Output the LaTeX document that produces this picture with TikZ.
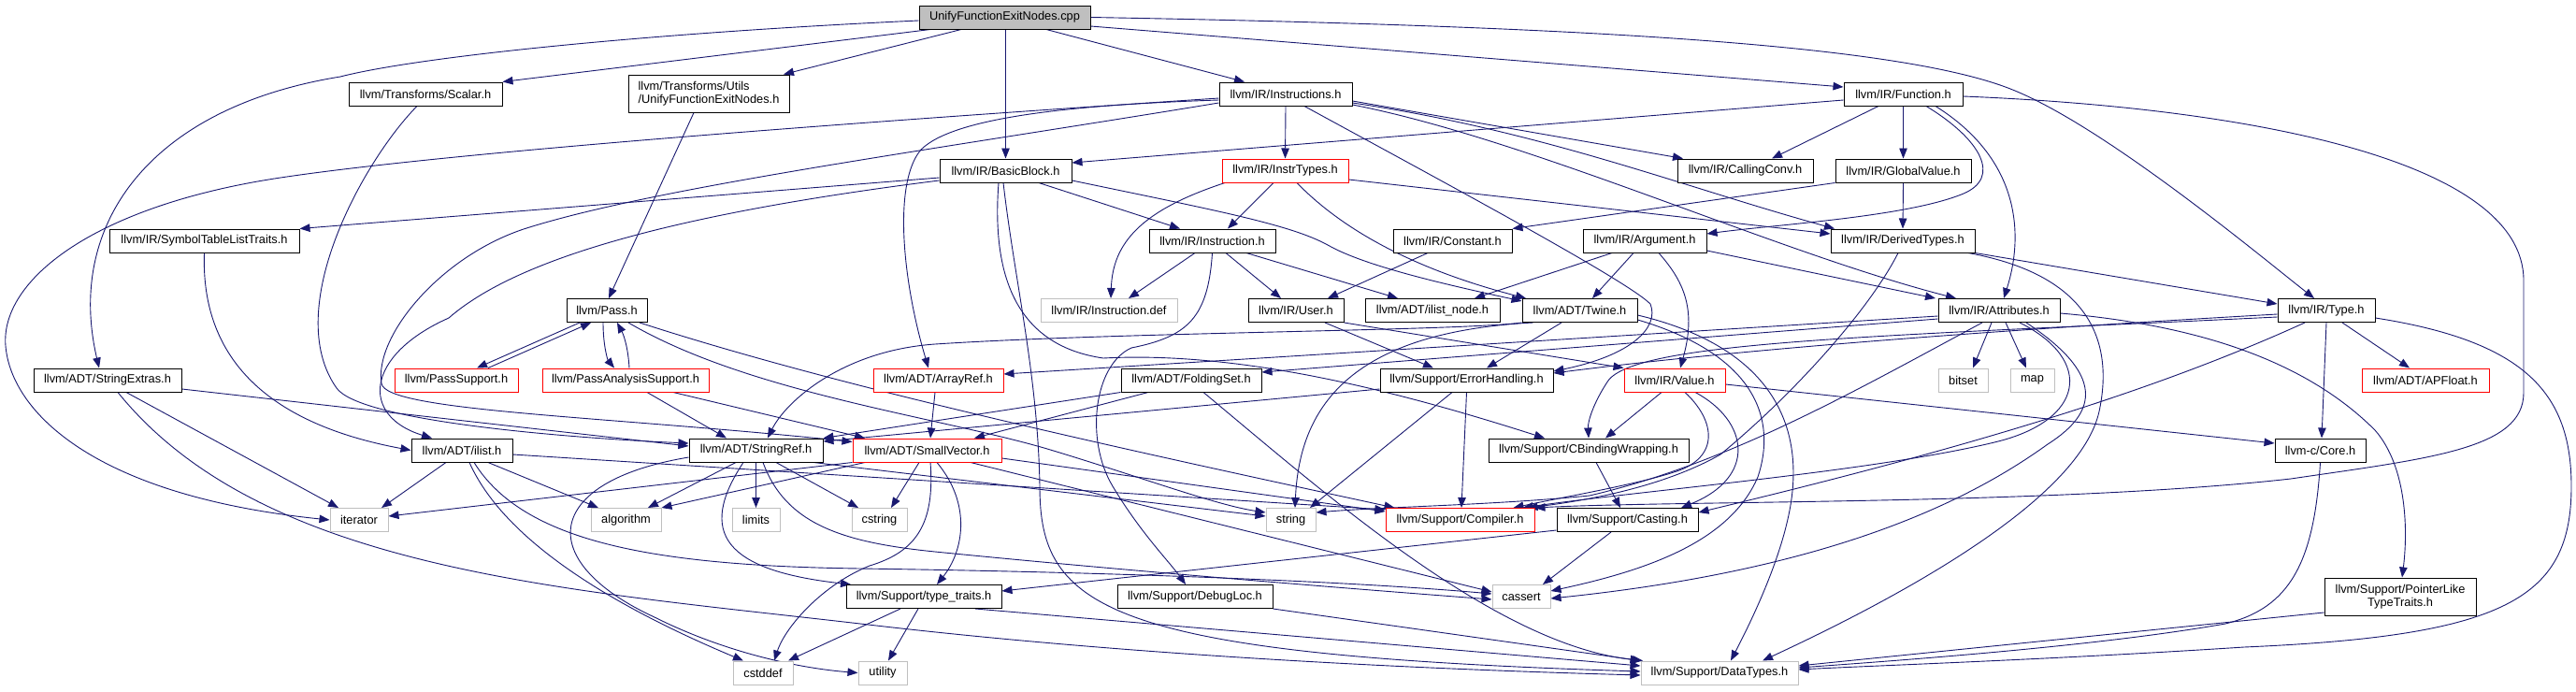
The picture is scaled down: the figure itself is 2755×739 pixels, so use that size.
\documentclass[tikz,border=0pt]{standalone}
\usepackage{fontspec}
\setmainfont{Liberation Sans}
\usetikzlibrary{arrows.meta}
\definecolor{dxgray}{HTML}{BFBFBF}
\definecolor{dxblue}{HTML}{191970}
\newcommand\dxfont{\fontsize{12.8pt}{14pt}\selectfont}
\pgfdeclarelayer{bglayer}
\pgfdeclarelayer{edgelayer}
\pgfsetlayers{bglayer,edgelayer,main}
\begin{document}
\begin{tikzpicture}[x=1pt,y=-1pt,
  dxbox/.style={draw=black, line width=1pt, fill=white, rectangle, minimum height=25pt, inner sep=0pt, font=\dxfont, text=black},
  dxgraybox/.style={dxbox, draw=dxgray},
  dxredbox/.style={dxbox, draw=red},
  dxedge/.style={draw=dxblue, line width=0.9pt, -{Triangle[length=11pt,width=8.5pt]}}]
\useasboundingbox (0,0) rectangle (2755,739);
\begin{pgfonlayer}{bglayer}\fill[white] (0,0) rectangle (2755,739);\end{pgfonlayer}

% row 0
\node[dxbox, fill=dxgray, minimum width=183pt] (cpp) at (1074.5,18.5) {UnifyFunctionExitNodes.cpp};
% row 1
\node[dxbox, minimum width=164pt] (scalar) at (455,100.5) {llvm/Transforms/Scalar.h};
\node[dxbox, minimum width=172pt, minimum height=40pt, align=left] (ufenh) at (758,100) {llvm/Transforms/Utils\\/UnifyFunctionExitNodes.h};
\node[dxbox, minimum width=142pt] (instructions) at (1375,100.5) {llvm/IR/Instructions.h};
\node[dxbox, minimum width=127pt] (function) at (2035.5,100.5) {llvm/IR/Function.h};
% row 2
\node[dxbox, minimum width=141pt] (basicblock) at (1075.5,182.5) {llvm/IR/BasicBlock.h};
\node[dxredbox, minimum width=135pt] (instrtypes) at (1374.5,182.5) {llvm/IR/InstrTypes.h};
\node[dxbox, minimum width=145pt] (callingconv) at (1866.5,182.5) {llvm/IR/CallingConv.h};
\node[dxbox, minimum width=145pt] (globalvalue) at (2035.5,182.5) {llvm/IR/GlobalValue.h};
% row 3
\node[dxbox, minimum width=203pt] (symtab) at (218.5,257.5) {llvm/IR/SymbolTableListTraits.h};
\node[dxbox, minimum width=135pt] (instruction) at (1296.5,257.5) {llvm/IR/Instruction.h};
\node[dxbox, minimum width=127pt] (constant) at (1553.5,257.5) {llvm/IR/Constant.h};
\node[dxbox, minimum width=132pt] (argument) at (1759,257.5) {llvm/IR/Argument.h};
\node[dxbox, minimum width=154pt] (derivedtypes) at (2035,257.5) {llvm/IR/DerivedTypes.h};
% row 4
\node[dxbox, minimum width=86pt] (pass) at (649,332) {llvm/Pass.h};
\node[dxgraybox, minimum width=146pt] (instrdef) at (1186,332) {llvm/IR/Instruction.def};
\node[dxbox, minimum width=102pt] (user) at (1386,332) {llvm/IR/User.h};
\node[dxbox, minimum width=144pt] (ilistnode) at (1532,332) {llvm/ADT/ilist\_node.h};
\node[dxbox, minimum width=123pt] (twine) at (1689.5,332) {llvm/ADT/Twine.h};
\node[dxbox, minimum width=130pt] (attributes) at (2138,332) {llvm/IR/Attributes.h};
\node[dxbox, minimum width=104pt] (type) at (2488,332) {llvm/IR/Type.h};
% row 5
\node[dxbox, minimum width=158pt] (stringextras) at (115,406.5) {llvm/ADT/StringExtras.h};
\node[dxredbox, minimum width=132pt] (passsupport) at (488,406.5) {llvm/PassSupport.h};
\node[dxredbox, minimum width=178pt] (passanalysis) at (669,406.5) {llvm/PassAnalysisSupport.h};
\node[dxredbox, minimum width=139pt] (arrayref) at (1003.5,406.5) {llvm/ADT/ArrayRef.h};
\node[dxbox, minimum width=150pt] (foldingset) at (1274,406.5) {llvm/ADT/FoldingSet.h};
\node[dxbox, minimum width=185pt] (errorhandling) at (1568.5,406.5) {llvm/Support/ErrorHandling.h};
\node[dxredbox, minimum width=108pt] (value) at (1791,406.5) {llvm/IR/Value.h};
\node[dxgraybox, minimum width=53pt] (bitset) at (2099.5,406.5) {bitset};
\node[dxgraybox, minimum width=47pt] (map) at (2173.5,406.5) {map};
\node[dxredbox, minimum width=136pt] (apfloat) at (2594,406.5) {llvm/ADT/APFloat.h};
% row 6
\node[dxbox, minimum width=108pt] (ilist) at (494,481.5) {llvm/ADT/ilist.h};
\node[dxbox, minimum width=143pt] (stringref) at (808.5,481.5) {llvm/ADT/StringRef.h};
\node[dxredbox, minimum width=159pt] (smallvector) at (991.5,481.5) {llvm/ADT/SmallVector.h};
\node[dxbox, minimum width=214pt] (cbinding) at (1699,481.5) {llvm/Support/CBindingWrapping.h};
\node[dxbox, minimum width=97pt] (core) at (2481.5,481.5) {llvm-c/Core.h};
% row 7
\node[dxgraybox, minimum width=62pt] (iterator) at (384,556) {iterator};
\node[dxgraybox, minimum width=75pt] (algorithm) at (669.5,556) {algorithm};
\node[dxgraybox, minimum width=51pt] (limits) at (808.5,556) {limits};
\node[dxgraybox, minimum width=59pt] (cstring) at (940.5,556) {cstring};
\node[dxgraybox, minimum width=53pt] (string) at (1380.5,556) {string};
\node[dxredbox, minimum width=159pt] (compiler) at (1561.5,556) {llvm/Support/Compiler.h};
\node[dxbox, minimum width=151pt] (casting) at (1740.5,556) {llvm/Support/Casting.h};
% row 8
\node[dxbox, minimum width=166pt] (typetraits) at (988,638) {llvm/Support/type\_traits.h};
\node[dxbox, minimum width=166pt] (debugloc) at (1278,638) {llvm/Support/DebugLoc.h};
\node[dxgraybox, minimum width=62pt] (cassert) at (1627,638) {cassert};
\node[dxbox, minimum width=162pt, minimum height=40pt, align=center] (pointerlike) at (2567,638) {llvm/Support/PointerLike\\TypeTraits.h};
% row 9
\node[dxgraybox, minimum width=64pt] (cstddef) at (816,719.5) {cstddef};
\node[dxgraybox, minimum width=52pt] (utility) at (944,719.5) {utility};
\node[dxgraybox, minimum width=168pt] (datatypes) at (1839,719.5) {llvm/Support/DataTypes.h};

\begin{pgfonlayer}{edgelayer}
% cpp
\draw[dxedge] ([yshift=-3.5pt]cpp.west) .. controls (700,35) and (450,60) .. (364,82) .. controls (160,115) and (70,240) .. ([xshift=-9pt]stringextras.north);
\draw[dxedge] ([xshift=-79.5pt]cpp.south) -- (scalar.north east);
\draw[dxedge] ([xshift=-46.5pt]cpp.south) -- ([xshift=80pt]ufenh.north);
\draw[dxedge] (cpp.south -| basicblock.north) -- (basicblock.north);
\draw[dxedge] ([xshift=44.5pt]cpp.south) -- ([xshift=-44pt]instructions.north);
\draw[dxedge] ([yshift=-9.5pt]cpp.east) -- ([yshift=7.5pt]function.west);
\draw[dxedge] (cpp.east) .. controls (1700,28) and (2030,48) .. (2150,95) .. controls (2250,134) and (2420,276) .. ([xshift=-13pt]type.north);
% scalar, ufenh
\draw[dxedge] ([xshift=-9pt]scalar.south) .. controls (390,170) and (300,330) .. (360,415) .. controls (385,450) and (600,468) .. ([yshift=7.5pt]stringref.west);
\draw[dxedge] ([xshift=-16pt]ufenh.south) -- ([xshift=2pt]pass.north);
% instructions
\draw[dxedge] (instructions.south) -- (instrtypes.north);
\draw[dxedge] ([yshift=-4.5pt]instructions.west) .. controls (1000,125) and (500,160) .. (300,190) .. controls (100,220) and (0,300) .. (6,370) .. controls (12,440) and (100,530) .. (iterator.west);
\draw[dxedge] ([yshift=-6.5pt]instructions.west) .. controls (1150,112) and (1020,125) .. (985,160) .. controls (955,195) and (965,300) .. ([xshift=-10.5pt]arrayref.north);
\draw[dxedge] ([yshift=-9.5pt]instructions.west) .. controls (1000,160) and (700,200) .. (560,245) .. controls (470,275) and (400,360) .. (408,410) .. controls (412,440) and (650,445) .. ([yshift=9pt]smallvector.west);
\draw[dxedge] ([yshift=-7.5pt]instructions.east) -- ([xshift=-66.5pt]callingconv.north);
\draw[dxedge] ([yshift=-9.5pt]instructions.east) .. controls (1650,140) and (1800,200) .. ([xshift=-73pt]derivedtypes.north);
\draw[dxedge] ([yshift=-11.5pt]instructions.east) .. controls (1640,150) and (1900,270) .. ([xshift=-46pt]attributes.north);
\draw[dxedge] ([xshift=20pt]instructions.south) .. controls (1550,198) and (1740,300) .. (1765,325) .. controls (1775,350) and (1745,380) .. ([yshift=9.5pt]errorhandling.east);
% function
\draw[dxedge] ([yshift=-6.5pt]function.west) -- ([yshift=8.5pt]basicblock.east);
\draw[dxedge] ([xshift=-26.5pt]function.south) -- ([xshift=28.5pt]callingconv.north);
\draw[dxedge] (function.south) -- (globalvalue.north);
\draw[dxedge] ([xshift=24.5pt]function.south) .. controls (2120,150) and (2140,190) .. (2100,207) .. controls (2040,232) and (1900,240) .. ([yshift=7.5pt]argument.east);
\draw[dxedge] ([xshift=34.5pt]function.south) .. controls (2160,170) and (2165,250) .. ([xshift=5pt]attributes.north);
\draw[dxedge] ([yshift=-2.5pt]function.east) .. controls (2400,115) and (2699,170) .. (2699,300) -- (2699,420) .. controls (2699,480) and (2600,490) .. (2450,512) .. controls (2200,540) and (1800,535) .. (compiler.north east);
% basicblock
\draw[dxedge] ([yshift=-7.5pt]basicblock.west) -- (symtab.north east);
\draw[dxedge] ([yshift=-10.5pt]basicblock.west) .. controls (750,225) and (560,270) .. (480,340) .. controls (390,380) and (385,445) .. ([xshift=-32pt]ilist.north);
\draw[dxedge] ([xshift=35.5pt]basicblock.south) -- ([xshift=-34.5pt]instruction.north);
\draw[dxedge] ([yshift=-10.5pt]basicblock.east) .. controls (1300,225) and (1380,240) .. (1420,262) .. controls (1460,285) and (1550,305) .. ([yshift=10pt]twine.west);
\draw[dxedge] ([xshift=-2.5pt]basicblock.south) .. controls (1085,300) and (1110,400) .. (1112,520) .. controls (1112,650) and (1180,700) .. ([yshift=1.5pt]datatypes.west);
\draw[dxedge] ([xshift=-7.5pt]basicblock.south) .. controls (1060,300) and (1090,370) .. (1180,383) .. controls (1330,375) and (1500,420) .. ([xshift=-47pt]cbinding.north);
% instrtypes
\draw[dxedge] ([xshift=-12.5pt]instrtypes.south) -- ([xshift=16.5pt]instruction.north);
\draw[dxedge] ([xshift=-64.5pt]instrtypes.south) .. controls (1220,225) and (1190,260) .. ([xshift=2pt]instrdef.north);
\draw[dxedge] ([xshift=12.5pt]instrtypes.south) .. controls (1440,250) and (1520,290) .. ([xshift=-57.5pt]twine.north);
\draw[dxedge] ([yshift=-9.5pt]instrtypes.east) -- ([yshift=7.5pt]derivedtypes.west);
% globalvalue
\draw[dxedge] (globalvalue.south west) -- (constant.north east);
\draw[dxedge] (globalvalue.south) -- (derivedtypes.north);
% symtab
\draw[dxedge] (symtab.south) .. controls (215,370) and (270,450) .. (ilist.west);
% instruction
\draw[dxedge] ([xshift=-18.5pt]instruction.south) -- ([xshift=21pt]instrdef.north);
\draw[dxedge] ([xshift=14.5pt]instruction.south) -- ([xshift=-16pt]user.north);
\draw[dxedge] ([xshift=36.5pt]instruction.south) -- ([xshift=-37pt]ilistnode.north);
\draw[dxedge] (instruction.south) .. controls (1292,340) and (1270,360) .. (1210,372) .. controls (1170,390) and (1160,470) .. (1190,520) .. controls (1220,570) and (1250,600) .. ([xshift=-10pt]debugloc.north);
% constant
\draw[dxedge] ([xshift=-26.5pt]constant.south) -- ([xshift=34pt]user.north);
% argument
\draw[dxedge] ([xshift=-35pt]argument.south) -- ([xshift=45pt]ilistnode.north);
\draw[dxedge] ([xshift=-12pt]argument.south) -- ([xshift=13.5pt]twine.north);
\draw[dxedge] ([xshift=15pt]argument.south) .. controls (1800,300) and (1815,330) .. ([xshift=6pt]value.north);
\draw[dxedge] ([yshift=-10.5pt]argument.east) -- ([xshift=-68pt]attributes.north);
% derivedtypes
\draw[dxedge] (derivedtypes.south east) -- ([yshift=7pt]type.west);
\draw[dxedge] ([xshift=-5pt]derivedtypes.south) .. controls (2000,330) and (1920,420) .. (1840,486) .. controls (1780,520) and (1700,535) .. ([xshift=72pt]compiler.north);
\draw[dxedge] ([xshift=70pt]derivedtypes.south) .. controls (2240,295) and (2260,370) .. (2245,440) .. controls (2225,530) and (2050,630) .. ([xshift=46pt]datatypes.north);
% pass
\draw[dxedge] ([xshift=-29pt]pass.south) -- ([xshift=22pt]passsupport.north);
\draw[dxedge] ([xshift=34pt]passsupport.north) -- ([xshift=-17pt]pass.south);
\draw[dxedge] ([xshift=-4pt]pass.south) .. controls (645,370) and (650,385) .. ([xshift=-12pt]passanalysis.north);
\draw[dxedge] ([xshift=4pt]passanalysis.north) .. controls (672,375) and (668,360) .. ([xshift=11pt]pass.south);
\draw[dxedge] ([xshift=23pt]pass.south) .. controls (800,420) and (1000,445) .. (1120,480) .. controls (1220,510) and (1300,540) .. ([yshift=8pt]string.west);
\draw[dxedge] ([xshift=35pt]pass.south) .. controls (900,415) and (1200,480) .. ([xshift=10pt]compiler.north west);
% passanalysis
\draw[dxedge] ([xshift=23pt]passanalysis.south) -- ([xshift=-31.5pt]stringref.north);
\draw[dxedge] ([xshift=51pt]passanalysis.south) -- ([xshift=-66.5pt]smallvector.north);
% stringextras
\draw[dxedge] ([yshift=-9.5pt]stringextras.east) -- ([yshift=4.5pt]stringref.west);
\draw[dxedge] ([xshift=20pt]stringextras.south) -- ([xshift=-22pt]iterator.north);
\draw[dxedge] ([xshift=11pt]stringextras.south) .. controls (280,610) and (600,630) .. (920,667) .. controls (1200,700) and (1500,715) .. ([yshift=-2.5pt]datatypes.west);
% arrayref, foldingset
\draw[dxedge] ([xshift=-3.5pt]arrayref.south) -- ([xshift=3.5pt]smallvector.north);
\draw[dxedge] (foldingset.south west) -- (stringref.north east);
\draw[dxedge] ([xshift=-46pt]foldingset.south) -- ([xshift=50.5pt]smallvector.north);
\draw[dxedge] ([xshift=13pt]foldingset.south) .. controls (1420,530) and (1600,690) .. ([xshift=-82pt]datatypes.north);
% errorhandling
\draw[dxedge] ([yshift=-9.5pt]errorhandling.west) -- ([yshift=9.5pt]stringref.east);
\draw[dxedge] ([xshift=-15.5pt]errorhandling.south) -- ([xshift=20.5pt]string.north);
\draw[dxedge] (errorhandling.south) -- ([xshift=1.5pt]compiler.north);
% value
\draw[dxedge] ([xshift=-14pt]value.south) -- ([xshift=18pt]cbinding.north);
\draw[dxedge] ([xshift=11pt]value.south) .. controls (1835,450) and (1840,490) .. (1790,505) .. controls (1750,518) and (1680,530) .. ([xshift=57pt]compiler.north);
\draw[dxedge] ([xshift=22pt]value.south) .. controls (1870,450) and (1880,510) .. ([xshift=57.5pt]casting.north);
\draw[dxedge] ([yshift=-4.5pt]value.east) -- ([yshift=7.5pt]core.west);
% twine
\draw[dxedge] ([xshift=-19.5pt]twine.south) -- ([xshift=21.5pt]errorhandling.north);
\draw[dxedge] (twine.south west) .. controls (1560,354) and (1200,355) .. (1000,368) .. controls (900,375) and (840,430) .. ([xshift=12.5pt]stringref.north);
\draw[dxedge] ([xshift=-50pt]twine.south) .. controls (1450,355) and (1390,430) .. ([xshift=4.5pt]string.north);
\draw[dxedge] ([yshift=-5pt]twine.east) .. controls (1890,370) and (1930,450) .. (1915,540) .. controls (1905,600) and (1870,670) .. ([xshift=12pt]datatypes.north);
\draw[dxedge] ([yshift=-10pt]twine.east) .. controls (1880,380) and (1900,450) .. (1880,510) .. controls (1850,580) and (1760,610) .. ([yshift=6pt]cassert.east);
% user
\draw[dxedge] ([xshift=31pt]user.south) -- ([xshift=-35.5pt]errorhandling.north);
\draw[dxedge] (user.south east) -- (value.north west);
% attributes
\draw[dxedge] ([yshift=-6pt]attributes.west) -- ([yshift=6.5pt]arrayref.east);
\draw[dxedge] ([yshift=-9pt]attributes.west) -- ([yshift=8.5pt]foldingset.east);
\draw[dxedge] ([xshift=-8pt]attributes.south) -- ([xshift=10.5pt]bitset.north);
\draw[dxedge] ([xshift=7pt]attributes.south) -- ([xshift=-6.5pt]map.north);
\draw[dxedge] ([yshift=-3pt]attributes.east) .. controls (2380,350) and (2480,400) .. (2540,460) .. controls (2575,500) and (2575,570) .. ([xshift=2pt]pointerlike.north);
\draw[dxedge] ([xshift=-18pt]attributes.south) .. controls (1980,420) and (1850,495) .. (1700,530) .. controls (1600,540) and (1480,542) .. ([yshift=8pt]string.east);
\draw[dxedge] ([xshift=22pt]attributes.south) .. controls (2240,385) and (2230,450) .. (2133,473) .. controls (2000,505) and (1750,525) .. ([xshift=67pt]compiler.north);
\draw[dxedge] ([xshift=29pt]attributes.south) .. controls (2250,400) and (2245,440) .. (2190,475) .. controls (2100,540) and (1950,610) .. ([yshift=-2pt]cassert.east);
% type
\draw[dxedge] ([xshift=17pt]type.south) -- ([xshift=-17pt]apfloat.north);
\draw[dxedge] (type.south) -- ([xshift=1.5pt]core.north);
\draw[dxedge] ([xshift=-23pt]type.south) .. controls (2300,420) and (2100,480) .. ([yshift=8pt]casting.east);
\draw[dxedge] ([yshift=-8pt]type.east) .. controls (2700,365) and (2750,420) .. (2750,520) .. controls (2750,640) and (2680,680) .. (2400,692) .. controls (2200,705) and (2000,712) .. ([yshift=3.5pt]datatypes.east);
\draw[dxedge] ([yshift=-4pt]type.west) .. controls (2100,355) and (1850,375) .. ([yshift=7.5pt]errorhandling.east);
\draw[dxedge] ([yshift=-7pt]type.west) .. controls (2000,360) and (1740,365) .. (1718,410) .. controls (1705,430) and (1698,450) .. (cbinding.north);
% ilist
\draw[dxedge] ([xshift=-17pt]ilist.south) -- ([xshift=24pt]iterator.north);
\draw[dxedge] ([xshift=28pt]ilist.south) -- ([xshift=-29.5pt]algorithm.north);
\draw[dxedge] ([xshift=8pt]ilist.south) .. controls (540,580) and (660,650) .. ([xshift=-21pt]cstddef.north);
\draw[dxedge] ([xshift=13pt]ilist.south) .. controls (560,580) and (700,605) .. (920,608) .. controls (1200,612) and (1450,622) .. ([yshift=3pt]cassert.west);
\draw[dxedge] ([yshift=-4.5pt]ilist.east) -- ([yshift=11pt]compiler.west);
% stringref
\draw[dxedge] ([xshift=-21.5pt]stringref.south) -- ([xshift=23.5pt]algorithm.north);
\draw[dxedge] (stringref.south) -- (limits.north);
\draw[dxedge] ([xshift=21.5pt]stringref.south) -- ([xshift=-22.5pt]cstring.north);
\draw[dxedge] ([xshift=61.5pt]stringref.south) -- ([yshift=4pt]string.west);
\draw[dxedge] ([xshift=-13.5pt]stringref.south) .. controls (745,570) and (775,610) .. ([xshift=-78pt]typetraits.north);
\draw[dxedge] ([yshift=-7.5pt]stringref.west) .. controls (580,515) and (570,600) .. (700,660) .. controls (780,700) and (860,715) .. (utility.west);
\draw[dxedge] ([xshift=7.5pt]stringref.south) .. controls (840,560) and (900,580) .. (1000,590) .. controls (1200,610) and (1450,630) .. ([yshift=-3pt]cassert.west);
% smallvector
\draw[dxedge] ([xshift=-8.5pt]smallvector.south) -- ([xshift=12.5pt]cstring.north);
\draw[dxedge] ([xshift=10.5pt]smallvector.south) .. controls (1040,540) and (1030,590) .. ([xshift=14pt]typetraits.north);
\draw[dxedge] ([xshift=3.5pt]smallvector.south) .. controls (1000,560) and (980,590) .. (930,605) .. controls (880,625) and (840,670) .. ([xshift=12pt]cstddef.north);
\draw[dxedge] ([xshift=46.5pt]smallvector.south) -- ([yshift=5pt]cassert.west);
\draw[dxedge] ([yshift=-8.5pt]smallvector.east) -- ([yshift=9pt]compiler.west);
\draw[dxedge] ([xshift=-66.5pt]smallvector.south) -- (algorithm.north east);
\draw[dxedge] (smallvector.south west) -- ([yshift=4pt]iterator.east);
% cbinding, core, pointerlike
\draw[dxedge] ([xshift=8pt]cbinding.south) -- ([xshift=-7.5pt]casting.north);
\draw[dxedge] (core.south) .. controls (2475,600) and (2450,650) .. (2380,667) .. controls (2250,690) and (2050,705) .. ([yshift=5.5pt]datatypes.east);
\draw[dxedge] ([yshift=-17pt]pointerlike.west) -- ([yshift=7.5pt]datatypes.east);
% casting
\draw[dxedge] ([xshift=-17.5pt]casting.south) -- ([xshift=23pt]cassert.north);
\draw[dxedge] ([yshift=-11pt]casting.west) -- ([yshift=6pt]typetraits.east);
% typetraits, debugloc
\draw[dxedge] ([xshift=-25pt]typetraits.south) -- ([xshift=27pt]cstddef.north);
\draw[dxedge] ([xshift=-6pt]typetraits.south) -- ([xshift=6pt]utility.north);
\draw[dxedge] ([xshift=55pt]typetraits.south) -- ([yshift=7.5pt]datatypes.west);
\draw[dxedge] (debugloc.south east) -- (datatypes.north west);
\end{pgfonlayer}
\end{tikzpicture}
\end{document}
